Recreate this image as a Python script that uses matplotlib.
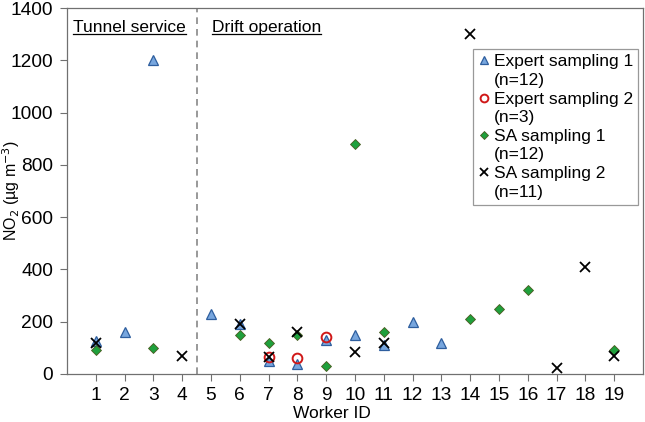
import numpy as np
import matplotlib.pyplot as plt
from matplotlib.lines import Line2D

plt.rcParams['font.family'] = ['Liberation Sans', 'DejaVu Sans']

# Worker IDs and NO2 concentrations (ug m-3)
expert1_id = [1, 2, 3, 5, 6, 7, 8, 9, 10, 11, 12, 13]
expert1_no2 = [128, 160, 1200, 230, 190, 48, 40, 130, 150, 110, 200, 120]

expert2_id = [7, 8, 9]
expert2_no2 = [64, 60, 140]

sa1_id = [1, 3, 6, 7, 8, 9, 10, 11, 14, 15, 16, 19]
sa1_no2 = [90, 100, 150, 120, 150, 30, 880, 160, 210, 250, 320, 90]

sa2_id = [1, 4, 6, 7, 8, 10, 11, 14, 17, 18, 19]
sa2_no2 = [118, 70, 190, 65, 160, 85, 120, 1300, 22, 410, 70]

series_names = ['Expert sampling 1', 'Expert sampling 2', 'SA sampling 1', 'SA sampling 2']
series_n = ['(n=12)', '(n=3)', '(n=12)', '(n=11)']

workers = np.arange(1, 20)
yticks = np.arange(0, 1401, 200)

fig = plt.figure(figsize=(6.45, 4.22), dpi=100)
ax = fig.add_axes([67/645, 1 - 374/422, (643 - 67)/645, (374 - 8)/422])

h1, = ax.plot(expert1_id, expert1_no2, linestyle='none', marker='^', markersize=7.2,
              markerfacecolor='#77a6de', markeredgecolor='#2e5e9e', markeredgewidth=0.9,
              zorder=3)
h2, = ax.plot(expert2_id, expert2_no2, linestyle='none', marker='o', markersize=7,
              markerfacecolor='none', markeredgecolor='#d01818', markeredgewidth=1.4,
              zorder=4)
h3, = ax.plot(sa1_id, sa1_no2, linestyle='none', marker='D', markersize=4.6,
              markerfacecolor='#1fa03c', markeredgecolor='#4a5a20', markeredgewidth=0.6,
              zorder=3)
h4, = ax.plot(sa2_id, sa2_no2, linestyle='none', marker='x', markersize=6.5,
              color='black', markeredgewidth=1.3, zorder=5)

ax.axvline(4.5, color='#888888', linestyle=(0, (4, 3)), linewidth=1.2, zorder=1)

ax.set_xlim(0, 20)
ax.set_ylim(0, 1400)
ax.set_xticks(workers)
ax.set_yticks(yticks)
ax.tick_params(direction='out', length=5, width=0.8, color='#707070',
               labelsize=13.8, pad=4)
ax.tick_params(axis='y', pad=5)
for side in ['left', 'bottom', 'right', 'top']:
    ax.spines[side].set_color('#707070')
    ax.spines[side].set_linewidth(0.9)

ax.set_xlabel('Worker ID', fontsize=12.5)
ax.xaxis.set_label_coords(0.46, -0.088)
ax.set_ylabel('NO$_2$ (µg m$^{-3}$)', fontsize=11.5)
ax.yaxis.set_label_coords(-0.078, 0.5)

# section headings, underlined
fig.canvas.draw()
renderer = fig.canvas.get_renderer()
for xpos, txt in [(0.21, 'Tunnel service'), (5.03, 'Drift operation')]:
    t = ax.text(xpos, 1324, txt, fontsize=12.5, ha='left', va='center')
    bb = t.get_window_extent(renderer).transformed(ax.transData.inverted())
    ax.plot([bb.x0, bb.x1], [bb.y0 + 5, bb.y0 + 5], color='black', linewidth=0.9)

# legend: marker on the first line, sample count on a second line
blank = Line2D([], [], linestyle='none')
handles, labels = [], []
for h, name, n in zip([h1, h2, h3, h4], series_names, series_n):
    handles += [h, blank]
    labels += [name, n]
leg = ax.legend(handles, labels, loc='upper right', bbox_to_anchor=(0.992, 0.888),
                fontsize=12.5, frameon=True, fancybox=False, edgecolor='#808080',
                handlelength=0.6, handletextpad=0.3, borderpad=0.3,
                labelspacing=0.2, markerscale=0.8, borderaxespad=0)
leg.get_frame().set_linewidth(0.9)

fig.savefig('out.png', dpi=100)
